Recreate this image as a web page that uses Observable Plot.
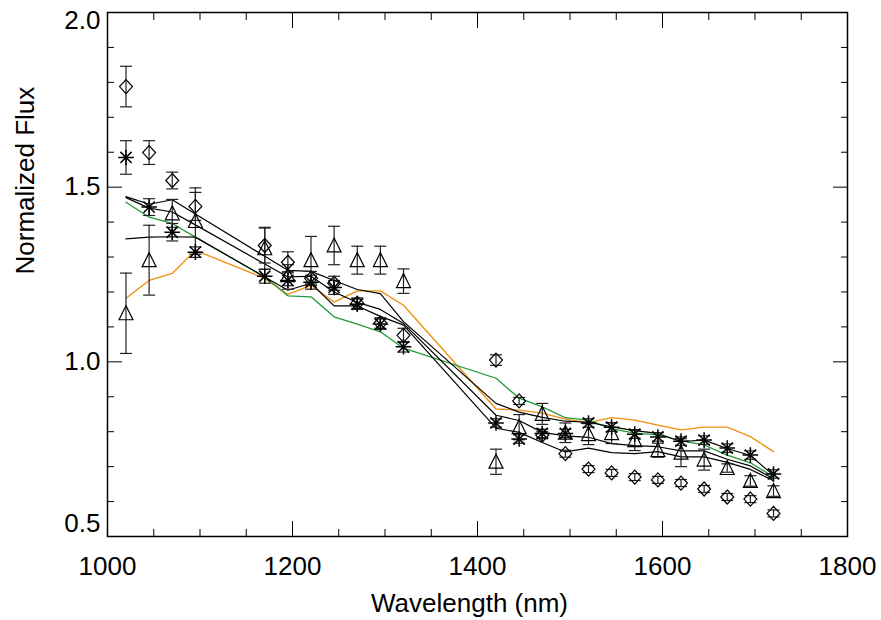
<!DOCTYPE html>
<html><head><meta charset="utf-8">
<script src="https://cdn.jsdelivr.net/npm/d3@7"></script>
<script src="https://cdn.jsdelivr.net/npm/@observablehq/plot@0.6"></script>
<style>body{margin:0;background:#fff;}</style>
</head><body><div id="chart"></div>
<script>
const wavelength = [1020,1045,1070,1095,1170,1195,1220,1245,1270,1295,1320,1420,1445,1470,1495,1520,1545,1570,1595,1620,1645,1670,1695,1720];

const diamondFlux = [1.788,1.599,1.519,1.445,1.333,1.285,1.239,1.225,1.168,1.111,1.076,1.005,0.888,0.790,0.737,0.693,0.682,0.670,0.662,0.653,0.636,0.613,0.607,0.566];
const diamondErr  = [0.058,0.034,0.024,0.040,0.050,0.030,0.020,0.020,0.015,0.015,0.020,0.015,0.010,0.010,0.010,0.010,0.010,0.010,0.010,0.010,0.010,0.010,0.010,0.010];

const asteriskFlux = [1.585,1.443,1.371,1.314,1.245,1.233,1.228,1.213,1.165,1.108,1.043,0.825,0.779,0.795,0.795,0.825,0.813,0.793,0.785,0.773,0.776,0.753,0.733,0.679];
const asteriskErr  = [0.048,0.024,0.025,0.015,0.020,0.025,0.020,0.020,0.015,0.015,0.015,0.012,0.012,0.012,0.012,0.012,0.012,0.012,0.012,0.012,0.012,0.012,0.012,0.012];

const triangleFlux = [1.139,1.291,1.425,1.403,1.325,1.248,1.291,1.333,1.291,1.291,1.231,0.714,0.813,0.851,0.797,0.793,0.796,0.776,0.747,0.740,0.720,0.696,0.659,0.630];
const triangleErr  = [0.115,0.100,0.040,0.095,0.060,0.030,0.068,0.055,0.040,0.040,0.035,0.036,0.036,0.030,0.028,0.030,0.030,0.030,0.020,0.040,0.030,0.012,0.015,0.015];

const model1 = [1.473,1.451,1.464,1.423,1.302,1.262,1.259,1.233,1.207,1.195,1.115,0.881,0.856,0.841,0.830,0.827,0.814,0.803,0.795,0.772,0.776,0.752,0.732,0.675];
const model2 = [1.470,1.440,1.429,1.392,1.280,1.243,1.245,1.200,1.170,1.150,1.110,0.847,0.832,0.798,0.788,0.784,0.766,0.760,0.757,0.745,0.745,0.721,0.702,0.665];
const model3 = [1.352,1.357,1.358,1.357,1.243,1.205,1.225,1.160,1.160,1.130,1.105,0.810,0.798,0.769,0.742,0.753,0.740,0.737,0.743,0.728,0.728,0.712,0.692,0.660];
const greenModel  = [1.457,1.414,1.396,1.357,1.243,1.189,1.186,1.129,1.108,1.086,1.039,0.953,0.896,0.871,0.840,0.833,0.808,0.796,0.791,0.774,0.762,0.733,0.711,0.671];
const orangeModel = [1.182,1.233,1.253,1.319,1.239,1.193,1.219,1.171,1.203,1.203,1.162,0.865,0.862,0.853,0.836,0.826,0.840,0.833,0.819,0.805,0.813,0.813,0.786,0.743];

const xMajor = [1000,1200,1400,1600,1800];
const xMinor = [1050,1100,1150,1250,1300,1350,1450,1500,1550,1650,1700,1750];
const yMajor = [0.5,1.0,1.5,2.0];
const yMinor = [0.6,0.7,0.8,0.9,1.1,1.2,1.3,1.4,1.6,1.7,1.8,1.9];
const xTitle = "Wavelength (nm)";
const yTitle = "Normalized Flux";

const pts = (flux, err) => wavelength.map((w, i) => ({w, f: flux[i], lo: flux[i] - err[i], hi: flux[i] + err[i]}));
const ln = (flux) => wavelength.map((w, i) => ({w, f: flux[i]}));

const sym = (fn) => ({draw(ctx, size) { const r = Math.sqrt(size / Math.PI); fn(ctx, r); }});
const diamondSym = sym((c, r) => { c.moveTo(0, -r); c.lineTo(r * 0.92, 0); c.lineTo(0, r); c.lineTo(-r * 0.92, 0); c.closePath(); });
const triangleSym = sym((c, r) => { c.moveTo(0, -r); c.lineTo(r * 0.93, r * 0.86); c.lineTo(-r * 0.93, r * 0.86); c.closePath(); });
const asteriskSym = sym((c, r) => {
  c.moveTo(0, -r); c.lineTo(0, r);
  c.moveTo(-r, 0); c.lineTo(r, 0);
  const d = r * 0.72;
  c.moveTo(-d, -d); c.lineTo(d, d);
  c.moveTo(-d, d); c.lineTo(d, -d);
});
const capSym = sym((c, r) => { c.moveTo(-r, 0); c.lineTo(r, 0); });

const errMarks = (data) => [
  Plot.ruleX(data, {x: "w", y1: "lo", y2: "hi", stroke: "#222", strokeWidth: 1.2}),
  Plot.dot(data, {x: "w", y: "lo", symbol: capSym, r: 6, stroke: "#222", strokeWidth: 1.2}),
  Plot.dot(data, {x: "w", y: "hi", symbol: capSym, r: 6, stroke: "#222", strokeWidth: 1.2})
];

const dia = pts(diamondFlux, diamondErr);
const ast = pts(asteriskFlux, asteriskErr);
const tri = pts(triangleFlux, triangleErr);

const fs = 26;
const chart = Plot.plot({
  width: 881, height: 620,
  marginLeft: 107, marginRight: 34, marginTop: 12, marginBottom: 84,
  style: {fontFamily: "Liberation Sans, Arial, sans-serif", fontSize: fs + "px", background: "white", color: "black"},
  x: {domain: [1000, 1800]},
  y: {domain: [0.5, 2.0]},
  marks: [
    Plot.line(ln(orangeModel), {x: "w", y: "f", stroke: "#ef8f0f", strokeWidth: 1.3}),
    Plot.line(ln(greenModel), {x: "w", y: "f", stroke: "#1f9a35", strokeWidth: 1.3}),
    Plot.line(ln(model3), {x: "w", y: "f", stroke: "black", strokeWidth: 1.2}),
    Plot.line(ln(model2), {x: "w", y: "f", stroke: "black", strokeWidth: 1.2}),
    Plot.line(ln(model1), {x: "w", y: "f", stroke: "black", strokeWidth: 1.2}),
    ...errMarks(dia), ...errMarks(tri), ...errMarks(ast),
    Plot.dot(dia, {x: "w", y: "f", symbol: diamondSym, r: 7, stroke: "black", fill: "none", strokeWidth: 1.2}),
    Plot.dot(tri, {x: "w", y: "f", symbol: triangleSym, r: 7.5, stroke: "black", fill: "none", strokeWidth: 1.2}),
    Plot.dot(ast, {x: "w", y: "f", symbol: asteriskSym, r: 7.8, stroke: "black", fill: "none", strokeWidth: 1.5}),
    // ticks (inward)
    Plot.axisX(xMajor, {anchor: "bottom", tickSize: -15, tickFormat: () => "", label: null}),
    Plot.axisX(xMinor, {anchor: "bottom", tickSize: -7, tickFormat: () => "", label: null}),
    Plot.axisX(xMajor, {anchor: "top", tickSize: -15, tickFormat: () => "", label: null}),
    Plot.axisX(xMinor, {anchor: "top", tickSize: -7, tickFormat: () => "", label: null}),
    Plot.axisY(yMajor, {anchor: "left", tickSize: -15, tickFormat: () => "", label: null}),
    Plot.axisY(yMinor, {anchor: "left", tickSize: -7, tickFormat: () => "", label: null}),
    Plot.axisY(yMajor, {anchor: "right", tickSize: -15, tickFormat: () => "", label: null}),
    Plot.axisY(yMinor, {anchor: "right", tickSize: -7, tickFormat: () => "", label: null}),
    // labels
    Plot.axisX(xMajor, {anchor: "bottom", tickSize: 0, tickPadding: 20, fontSize: fs, tickFormat: d3.format("d"), label: null}),
    Plot.axisY([1.0, 1.5], {anchor: "left", tickSize: 0, tickPadding: 7, fontSize: fs, tickFormat: d3.format(".1f"), label: null}),
    Plot.axisY([2.0], {anchor: "left", tickSize: 0, tickPadding: 7, dy: 8, fontSize: fs, tickFormat: d3.format(".1f"), label: null}),
    Plot.axisY([0.5], {anchor: "left", tickSize: 0, tickPadding: 7, dy: -13, fontSize: fs, tickFormat: d3.format(".1f"), label: null}),
    Plot.text([xTitle], {frameAnchor: "bottom", dy: 67, dx: -8, fontSize: fs, lineAnchor: "middle"}),
    Plot.text([yTitle], {frameAnchor: "left", dx: -82, rotate: -90, fontSize: fs, lineAnchor: "middle"}),
    Plot.frame({stroke: "black", strokeWidth: 1.5})
  ]
});
document.getElementById("chart").appendChild(chart);
</script>
</body></html>
